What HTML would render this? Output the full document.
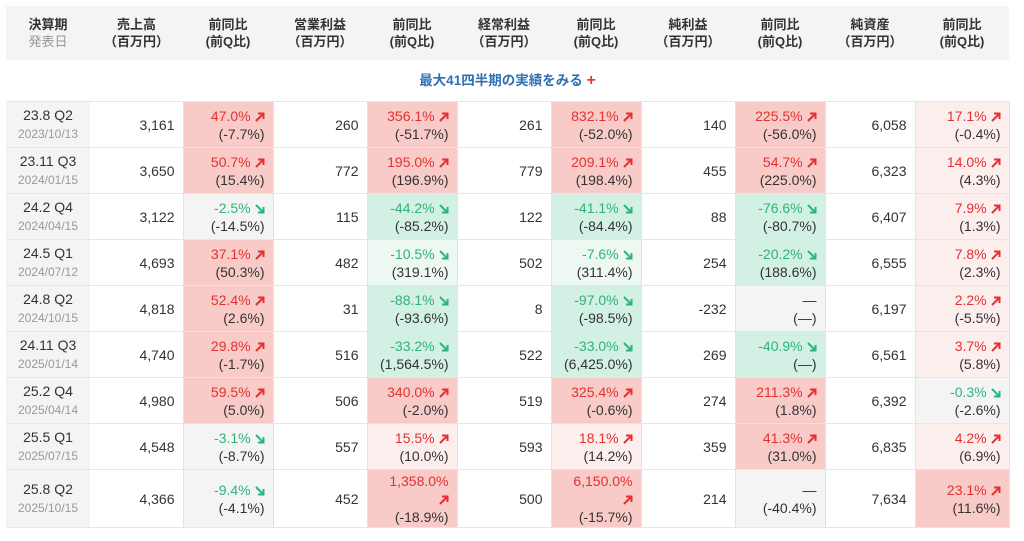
<!DOCTYPE html>
<html><head><meta charset="utf-8"><style>
body{margin:0;background:#fff;font-family:"Liberation Sans","Noto Sans CJK JP",sans-serif;color:#333;width:1024px;height:541px;overflow:hidden}
.wrap{position:absolute;left:6px;top:6px;width:1003px}
table{border-collapse:collapse;table-layout:fixed;width:1003px}
.hd td{background:#f4f4f4;height:54px;text-align:center;font-weight:bold;font-size:13px;line-height:17px;color:#333;padding:0}
.hd td span{font-weight:normal;color:#999}
.link{height:39px;text-align:center;color:#2f6fb3;font-weight:bold;font-size:13.5px;line-height:39px}
.link b{color:#e53935;font-size:16px}
.bd td{height:45px;border-top:1px solid #e6e6e6;border-bottom:1px solid #e6e6e6;font-size:14px;line-height:18px;padding:0 8px;text-align:right}
.bd td.q{text-align:center;background:#f4f4f4;padding:0}
.q small{color:#999;font-size:12px}
.bd td.r{border-left:1px solid #e2e2e2;border-right:1px solid #e2e2e2}
.R{background:#f8cbc8}.r1{background:#fdeeee}.G{background:#d2f0e3}.g1{background:#eef8f3}.N{background:#f4f4f4}
.up{color:#e5302f}.dn{color:#2fb37a}
svg{vertical-align:-1px}
</style></head><body><div class="wrap">
<table>
<colgroup><col style="width:84px"><col style="width:93px"><col style="width:90px"><col style="width:94px"><col style="width:90px"><col style="width:94px"><col style="width:90px"><col style="width:94px"><col style="width:90px"><col style="width:90px"><col style="width:94px"></colgroup>
<tr class="hd"><td>決算期<br><span>発表日</span></td><td>売上高<br>（百万円）</td><td>前同比<br>(前Q比)</td><td>営業利益<br>（百万円）</td><td>前同比<br>(前Q比)</td><td>経常利益<br>（百万円）</td><td>前同比<br>(前Q比)</td><td>純利益<br>（百万円）</td><td>前同比<br>(前Q比)</td><td>純資産<br>（百万円）</td><td>前同比<br>(前Q比)</td></tr>
<tr><td colspan="11" class="link">最大41四半期の実績をみる <b>+</b></td></tr>
</table>
<table class="bd" id="t"></table>
</div>
<script>
var U='<svg width="10" height="10" viewBox="0 0 10 10"><path d="M1 9L8 2M3 1.5H8.5V7" stroke="#e5302f" stroke-width="2" fill="none"/></svg>';
var D='<svg width="10" height="10" viewBox="0 0 10 10"><path d="M1 1L8 8M3 8.5H8.5V3" stroke="#2fb37a" stroke-width="2" fill="none"/></svg>';
var rows=[
["23.8 Q2","2023/10/13","3,161",["R","47.0%","-7.7%"],"260",["R","356.1%","-51.7%"],"261",["R","832.1%","-52.0%"],"140",["R","225.5%","-56.0%"],"6,058",["r1","17.1%","-0.4%"]],
["23.11 Q3","2024/01/15","3,650",["R","50.7%","15.4%"],"772",["R","195.0%","196.9%"],"779",["R","209.1%","198.4%"],"455",["R","54.7%","225.0%"],"6,323",["r1","14.0%","4.3%"]],
["24.2 Q4","2024/04/15","3,122",["N","-2.5%","-14.5%"],"115",["G","-44.2%","-85.2%"],"122",["G","-41.1%","-84.4%"],"88",["G","-76.6%","-80.7%"],"6,407",["r1","7.9%","1.3%"]],
["24.5 Q1","2024/07/12","4,693",["R","37.1%","50.3%"],"482",["g1","-10.5%","319.1%"],"502",["g1","-7.6%","311.4%"],"254",["G","-20.2%","188.6%"],"6,555",["r1","7.8%","2.3%"]],
["24.8 Q2","2024/10/15","4,818",["R","52.4%","2.6%"],"31",["G","-88.1%","-93.6%"],"8",["G","-97.0%","-98.5%"],"-232",["N","—","—"],"6,197",["r1","2.2%","-5.5%"]],
["24.11 Q3","2025/01/14","4,740",["R","29.8%","-1.7%"],"516",["G","-33.2%","1,564.5%"],"522",["G","-33.0%","6,425.0%"],"269",["G","-40.9%","—"],"6,561",["r1","3.7%","5.8%"]],
["25.2 Q4","2025/04/14","4,980",["R","59.5%","5.0%"],"506",["R","340.0%","-2.0%"],"519",["R","325.4%","-0.6%"],"274",["R","211.3%","1.8%"],"6,392",["N","-0.3%","-2.6%"]],
["25.5 Q1","2025/07/15","4,548",["N","-3.1%","-8.7%"],"557",["r1","15.5%","10.0%"],"593",["r1","18.1%","14.2%"],"359",["R","41.3%","31.0%"],"6,835",["r1","4.2%","6.9%"]],
["25.8 Q2","2025/10/15","4,366",["N","-9.4%","-4.1%"],"452",["R","1,358.0%","-18.9%"],"500",["R","6,150.0%","-15.7%"],"214",["N","—","-40.4%"],"7,634",["R","23.1%","11.6%"]]];
var h='<colgroup><col style="width:84px"><col style="width:93px"><col style="width:90px"><col style="width:94px"><col style="width:90px"><col style="width:94px"><col style="width:90px"><col style="width:94px"><col style="width:90px"><col style="width:90px"><col style="width:94px"></colgroup>';
rows.forEach(function(r,i){
 var st=i==8?' style="height:58px"':'';
 h+='<tr'+st+'><td class="q">'+r[0]+'<br><small>'+r[1]+'</small></td>';
 for(var k=2;k<12;k+=2){
  h+='<td>'+r[k]+'</td>';
  var c=r[k+1],t;
  if(c[1]=='—')t='<span style="color:#333">—</span>';
  else{var neg=c[1][0]=='-';t='<span class="'+(neg?'dn':'up')+'">'+c[1]+(c[1].length>7?'<br>':' ')+(neg?D:U)+'</span>';}
  h+='<td class="r '+c[0]+'">'+t+'<br>('+c[2]+')</td>';
 }
 h+='</tr>';
});
document.getElementById('t').innerHTML=h;
</script>
</body></html>
